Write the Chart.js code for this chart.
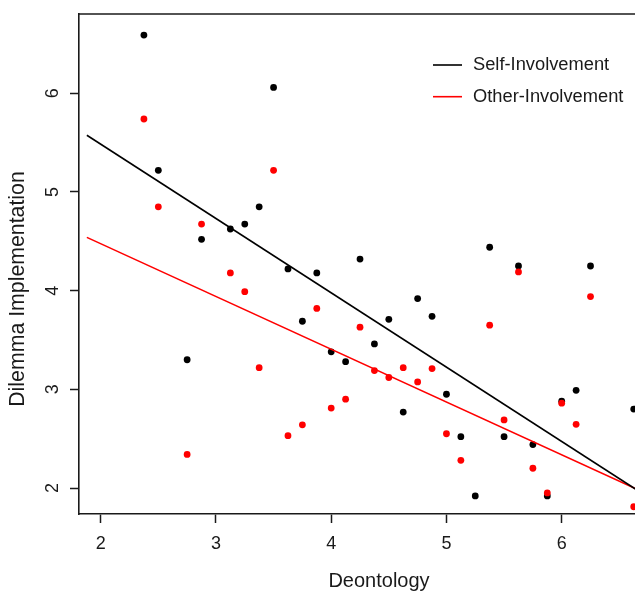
<!DOCTYPE html>
<html><head><meta charset="utf-8">
<script src="https://cdn.jsdelivr.net/npm/chart.js@4/dist/chart.umd.min.js"></script>
<style>html,body{margin:0;padding:0;background:#fff;overflow:hidden}canvas{display:block}</style>
</head><body>
<canvas id="c" width="635" height="593"></canvas>
<script>
// ---- data ----
const deontology = [2.375, 2.5, 2.75, 2.875, 3.125, 3.25, 3.375, 3.5, 3.625, 3.75, 3.875, 4, 4.125, 4.25, 4.375, 4.5, 4.625, 4.75, 4.875, 5, 5.125, 5.25, 5.375, 5.5, 5.625, 5.75, 5.875, 6, 6.125, 6.25, 6.625];
const selfInvolvement = [6.59, 5.22, 3.30, 4.52, 4.625, 4.675, 4.85, 6.06, 4.22, 3.69, 4.18, 3.38, 3.28, 4.32, 3.46, 3.71, 2.77, 3.92, 3.74, 2.95, 2.52, 1.92, 4.44, 2.52, 4.25, 2.44, 1.92, 2.88, 2.99, 4.25, 2.80];
const otherInvolvement = [5.74, 4.85, 2.34, 4.675, 4.18, 3.99, 3.22, 5.22, 2.53, 2.64, 3.82, 2.81, 2.90, 3.63, 3.19, 3.12, 3.22, 3.075, 3.21, 2.55, 2.28, null, 3.65, 2.69, 4.19, 2.20, 1.95, 2.86, 2.645, 3.94, 1.81];
const fitX = [1.88, 6.64];
const selfFit = [5.575, 1.99];
const otherFit = [4.54, 1.995];
const xTicks = [2, 3, 4, 5, 6];
const yTicks = [2, 3, 4, 5, 6];
const seriesNames = ['Self-Involvement', 'Other-Involvement'];
const xTitle = 'Deontology';
const yTitle = 'Dilemma Implementation';

const FONT = "'Liberation Sans', Arial, Helvetica, sans-serif";
const INK = '#1a1a1a';
const pts = (xs, ys) => xs.map((x, i) => ({x: x, y: ys[i]})).filter(p => p.y !== null);

const framePlugin = {
  id: 'frame',
  afterDraw(chart) {
    const {ctx, chartArea: a} = chart;
    ctx.save();
    ctx.strokeStyle = INK; ctx.lineWidth = 1.6;
    ctx.beginPath(); ctx.moveTo(a.left - 0.8, a.top); ctx.lineTo(a.right, a.top); ctx.stroke();
    ctx.fillStyle = INK;
    ctx.textAlign = 'center'; ctx.textBaseline = 'middle';
    ctx.font = '20px ' + FONT;
    ctx.fillText(xTitle, a.left + 300, a.bottom + 67);
    ctx.font = '21.3px ' + FONT;
    ctx.save(); ctx.translate(18, a.top + 275); ctx.rotate(-Math.PI / 2); ctx.fillText(yTitle, 0, 0); ctx.restore();
    const lines = chart.data.datasets.filter(d => d.showLine);
    ctx.font = '18.3px ' + FONT; ctx.textAlign = 'left';
    lines.forEach((d, i) => {
      const y = a.top + 51 + i * 31.7;
      ctx.strokeStyle = d.borderColor; ctx.lineWidth = 1.6;
      ctx.beginPath(); ctx.moveTo(a.left + 354, y); ctx.lineTo(a.left + 383, y); ctx.stroke();
      ctx.fillStyle = INK; ctx.fillText(d.label, a.left + 394, y);
    });
    ctx.restore();
  }
};

new Chart(document.getElementById('c'), {
  type: 'scatter',
  data: {
    datasets: [
      {label: seriesNames[0], data: pts(fitX, selfFit), showLine: true, borderColor: '#000000', borderWidth: 1.6, pointRadius: 0, order: 0},
      {label: seriesNames[1], data: pts(fitX, otherFit), showLine: true, borderColor: '#ff0000', borderWidth: 1.6, pointRadius: 0, order: 0},
      {label: seriesNames[0] + ' points', data: pts(deontology, selfInvolvement), backgroundColor: '#000000', borderWidth: 0, pointRadius: 3.4, order: 2},
      {label: seriesNames[1] + ' points', data: pts(deontology, otherInvolvement), backgroundColor: '#ff0000', borderWidth: 0, pointRadius: 3.4, order: 1}
    ]
  },
  options: {
    responsive: false,
    animation: false,
    events: [],
    layout: {autoPadding: false, padding: {top: 14, left: 0, right: 0, bottom: 0}},
    plugins: {legend: {display: false}, tooltip: {enabled: false}},
    scales: {
      x: {
        type: 'linear', min: 1.8117, max: 6.636,
        afterBuildTicks: s => { s.ticks = xTicks.map(v => ({value: v})); },
        afterFit: s => { s.height = 79; s.paddingLeft = 0; s.paddingRight = 0; s.paddingTop = 0; s.paddingBottom = 0; },
        grid: {drawOnChartArea: false, drawTicks: true, tickLength: 9, tickColor: INK, tickWidth: 1.5},
        border: {display: true, color: INK, width: 1.6},
        ticks: {font: {family: FONT, size: 18}, color: INK, padding: 10, maxRotation: 0, minRotation: 0}
      },
      y: {
        type: 'linear', min: 1.7365, max: 6.804,
        afterBuildTicks: s => { s.ticks = yTicks.map(v => ({value: v})); },
        afterFit: s => { s.width = 79; s.paddingLeft = 0; s.paddingRight = 0; s.paddingTop = 0; s.paddingBottom = 0; },
        grid: {drawOnChartArea: false, drawTicks: true, tickLength: 9, tickColor: INK, tickWidth: 1.5},
        border: {display: true, color: INK, width: 1.6},
        ticks: {font: {family: FONT, size: 18}, color: INK, padding: 12, minRotation: 90, maxRotation: 90, crossAlign: 'center'}
      }
    }
  },
  plugins: [framePlugin]
});
</script>
</body></html>
